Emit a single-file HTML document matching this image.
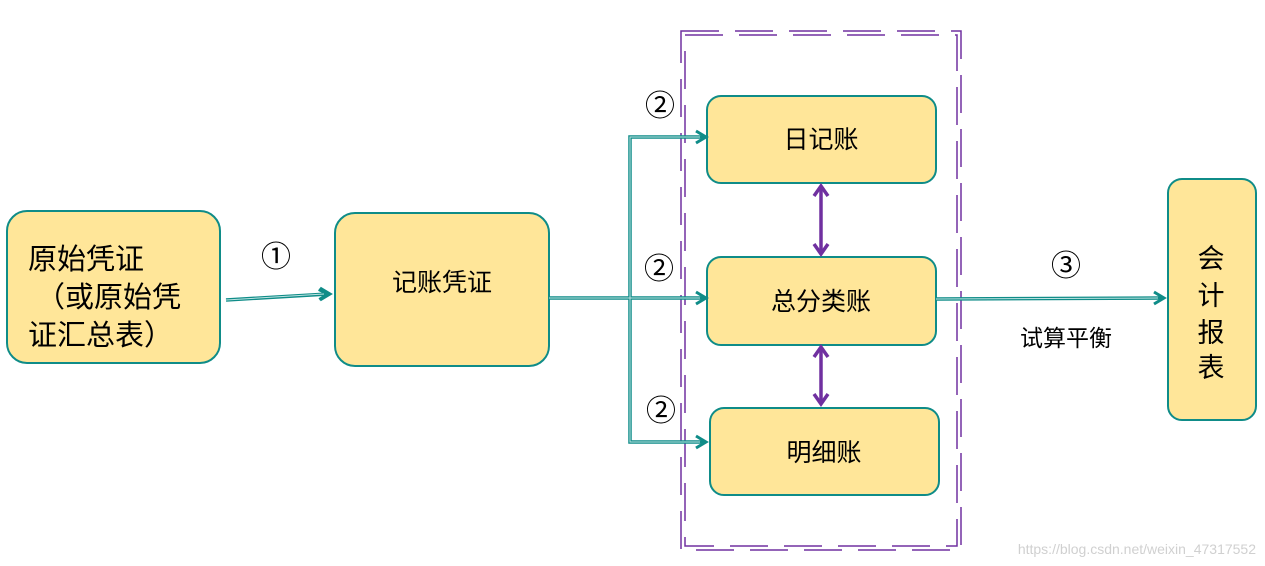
<!DOCTYPE html>
<html><head><meta charset="utf-8"><style>
html,body{margin:0;padding:0;background:#fff;}
svg{display:block;}
text{font-family:"Liberation Sans","Noto Sans CJK SC",sans-serif;fill:#000;}
</style></head><body>
<svg width="1265" height="566" viewBox="0 0 1265 566" xmlns="http://www.w3.org/2000/svg">
<defs>
<marker id="ta" markerWidth="12" markerHeight="12" refX="10" refY="6" orient="auto" markerUnits="userSpaceOnUse">
<path d="M1,1 L10,6 L1,11" fill="none" stroke="#0f8c88" stroke-width="3"/>
</marker>
<marker id="pa" markerWidth="14" markerHeight="14" refX="7" refY="2" orient="auto-start-reverse" markerUnits="userSpaceOnUse">
</marker>
</defs>
<!-- dashed group box (double line) -->
<rect x="681" y="31" width="280" height="519" fill="none" stroke="#7030a0" stroke-width="1.5" stroke-dasharray="38,16"/>
<rect x="685" y="35" width="272" height="511" fill="none" stroke="#7030a0" stroke-width="1.5" stroke-dasharray="38,16"/>

<!-- boxes -->
<g fill="#ffe699" stroke="#0f8c88" stroke-width="2">
<rect x="7" y="211" width="213" height="152" rx="20"/>
<rect x="335" y="213" width="214" height="153" rx="20"/>
<rect x="707" y="96" width="229" height="87" rx="14"/>
<rect x="707" y="257" width="229" height="88" rx="14"/>
<rect x="710" y="408" width="229" height="87" rx="14"/>
<rect x="1168" y="179" width="88" height="241" rx="14"/>
</g>

<!-- teal connectors -->
<g fill="none" stroke="#0f8c88" stroke-width="3.5">
<line x1="226" y1="300" x2="328" y2="294" marker-end="url(#ta)"/>
<polyline points="549,298 630,298"/>
<polyline points="704,137 630,137 630,442 704,442"/>
<line x1="630" y1="298" x2="704" y2="298"/>
<line x1="936" y1="299" x2="1163" y2="298"/>
</g>
<g fill="none" stroke="#bfe4e2" stroke-width="1">
<line x1="226" y1="300" x2="324" y2="294"/>
<polyline points="549,298 700,298"/>
<polyline points="700,137 630,137 630,442 700,442"/>
<line x1="936" y1="299" x2="1158" y2="298"/>
</g>
<g fill="none" stroke="#0f8c88" stroke-width="3">
<path d="M320,288 L330,294 L320,300"/>
<path d="M696,131 L706,137 L696,143"/>
<path d="M696,292 L706,298 L696,304"/>
<path d="M696,436 L706,442 L696,448"/>
<path d="M1154,292 L1164,298 L1154,304"/>
</g>

<!-- purple double arrows -->
<g fill="none" stroke="#7030a0" stroke-width="3.5">
<line x1="821" y1="188" x2="821" y2="252"/>
<path d="M814,196 L821,186 L828,196"/>
<path d="M814,244 L821,254 L828,244"/>
<line x1="821" y1="349" x2="821" y2="402"/>
<path d="M814,357 L821,347 L828,357"/>
<path d="M814,394 L821,404 L828,394"/>
</g>

<!-- labels -->
<g font-size="29">
<text x="28" y="269">原始凭证</text>
<text x="36" y="307">（或原始凭</text>
<text x="28" y="345">证汇总表）</text>
</g>
<text x="442" y="291" font-size="25" text-anchor="middle">记账凭证</text>
<text x="821" y="148" font-size="25" text-anchor="middle">日记账</text>
<text x="821" y="310" font-size="25" text-anchor="middle">总分类账</text>
<text x="824" y="461" font-size="25" text-anchor="middle">明细账</text>
<g font-size="27" text-anchor="middle">
<text x="1211" y="268">会</text>
<text x="1211" y="305">计</text>
<text x="1211" y="342">报</text>
<text x="1211" y="377">表</text>
</g>
<text x="1066" y="346" font-size="23" text-anchor="middle">试算平衡</text>
<g font-size="30" text-anchor="middle">
<text x="276" y="267">①</text>
<text x="660" y="116">②</text>
<text x="659" y="279">②</text>
<text x="661" y="421">②</text>
<text x="1066" y="276">③</text>
</g>
<text x="1256" y="554" font-size="14" fill="#cccccc" style="fill:#d0d0d0" text-anchor="end">https://blog.csdn.net/weixin_47317552</text>
</svg>
</body></html>
